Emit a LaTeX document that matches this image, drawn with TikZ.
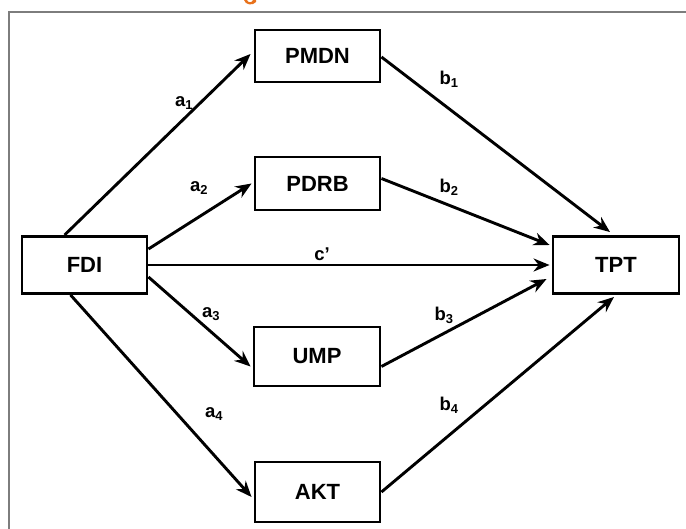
\documentclass[tikz,border=0pt]{standalone}
\usepackage{fontspec}
\setmainfont{Liberation Sans}
\usetikzlibrary{arrows.meta}
\definecolor{frameGray}{RGB}{125,125,125}
\definecolor{capOrange}{RGB}{232,114,28}
\begin{document}
\begin{tikzpicture}[x=1pt,y=-1pt,
  box/.style={draw=black,line width=2.9pt,fill=white,minimum width=125pt,minimum height=55pt,inner sep=0pt,font=\fontsize{22}{24}\selectfont\bfseries},
  link/.style={line width=2.9pt,-{Stealth[length=16pt,width=13pt]}},
  lbl/.style={font=\fontsize{18.5}{20}\selectfont\bfseries,inner sep=0pt}]
\useasboundingbox (0,0) rectangle (686,529);
\fill[capOrange] (244,0) .. controls (245,5) and (253,6) .. (256,2) -- (256,0) -- (253,0) .. controls (252,3) and (248,3) .. (247,0) -- cycle;
\draw[frameGray,line width=2pt] (8.5,529) -- (8.5,12.5) -- (686,12.5);

\node[box,minimum height=52pt] (PMDN) at (317.5,56) {PMDN};
\node[box,minimum height=53pt] (PDRB) at (317.5,183.5) {PDRB};
\node[box,minimum height=57pt] (FDI) at (84.5,265) {FDI};
\node[box,minimum width=126pt,minimum height=57pt] (TPT) at (616,265) {TPT};
\node[box,minimum width=126pt,minimum height=59pt] (UMP) at (317,356.5) {UMP};
\node[box,minimum height=60pt] (AKT) at (317.5,492) {AKT};

\draw[link] ([xshift=44pt]FDI.north west) -- ([xshift=-3pt,yshift=2pt]PMDN.west);
\draw[link] ([yshift=16pt]FDI.east) -- ([xshift=-2pt]PDRB.west);
\draw[link] (FDI.east) -- ([xshift=-2pt]TPT.west);
\draw[link] ([yshift=-12pt]FDI.east) -- ([xshift=-2pt,yshift=-10pt]UMP.west);
\draw[link] ([xshift=50pt]FDI.south west) -- ([xshift=-2pt,yshift=-5pt]AKT.west);
\draw[link] ([yshift=-1pt]PMDN.east) -- ([xshift=-6pt,yshift=3pt]TPT.north);
\draw[link] ([yshift=5pt]PDRB.east) -- ([xshift=-2pt,yshift=20pt]TPT.west);
\draw[link] ([yshift=-10pt]UMP.east) -- ([xshift=-5pt,yshift=-14pt]TPT.west);
\draw[link] (AKT.east) -- ([xshift=-2pt,yshift=-2pt]TPT.south);

\node[lbl] (la1) at (184,103) {a\textsubscript{1}};
\node[lbl] (la2) at (199,188) {a\textsubscript{2}};
\node[lbl] (lc) at (322,254) {c’};
\node[lbl] (la3) at (211,314) {a\textsubscript{3}};
\node[lbl] (la4) at (214,414) {a\textsubscript{4}};
\node[lbl] (lb1) at (449,79) {b\textsubscript{1}};
\node[lbl] (lb2) at (449,187) {b\textsubscript{2}};
\node[lbl] (lb3) at (444,315) {b\textsubscript{3}};
\node[lbl] (lb4) at (449,405) {b\textsubscript{4}};
\end{tikzpicture}
\end{document}
